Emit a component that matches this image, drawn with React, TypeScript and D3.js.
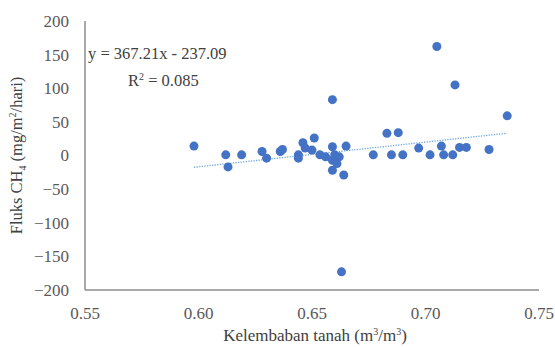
import React, { useEffect, useRef } from 'react';
import * as d3 from 'd3';

const moisture = [
  0.598, 0.612, 0.613, 0.619, 0.628, 0.630, 0.636, 0.637, 0.644, 0.644,
  0.646, 0.647, 0.651, 0.650, 0.6535, 0.656, 0.659, 0.659, 0.659, 0.660,
  0.661, 0.659, 0.662, 0.664, 0.665, 0.677, 0.705, 0.713, 0.736, 0.683,
  0.688, 0.685, 0.690, 0.697, 0.702, 0.707, 0.708, 0.712, 0.715, 0.718,
  0.728, 0.663,
];
const fluxCH4 = [
  14, 1, -17, 1, 6, -4, 6, 9, 1, -4,
  19, 11, 26, 8, 1, -2, 13, 83, -7, 1,
  -12, -22, -2, -29, 14, 1, 162, 105, 59, 33,
  34, 1, 1, 11, 1, 14, 1, 1, 12, 12,
  9, -173,
];
const xTicks = [0.55, 0.60, 0.65, 0.70, 0.75];
const yTicks = [200, 150, 100, 50, 0, -50, -100, -150, -200];
const slope = 367.21;
const intercept = -237.09;

const W = 555;
const H = 347;
const margin = { top: 21, right: 16, bottom: 57, left: 85 };

const App: React.FC = () => {
  const svgRef = useRef<SVGSVGElement>(null);

  useEffect(() => {
    if (!svgRef.current) return;
    const svg = d3.select(svgRef.current);
    svg.selectAll('*').remove();

    const x = d3.scaleLinear().domain([0.55, 0.75]).range([margin.left, W - margin.right]);
    const y = d3.scaleLinear().domain([-200, 200]).range([H - margin.bottom, margin.top]);
    const font = '"Liberation Serif", "Times New Roman", serif';

    // axes (Excel style: no tick marks, just lines)
    svg.append('line')
      .attr('x1', x(0.55)).attr('x2', x(0.55))
      .attr('y1', y(200)).attr('y2', y(-200))
      .attr('stroke', '#8c8c8c').attr('stroke-width', 1.5);
    svg.append('line')
      .attr('x1', x(0.55)).attr('x2', x(0.75))
      .attr('y1', y(-200)).attr('y2', y(-200))
      .attr('stroke', '#8c8c8c').attr('stroke-width', 1.5);

    svg.append('g')
      .selectAll('text')
      .data(yTicks)
      .join('text')
      .attr('x', margin.left - 16)
      .attr('y', d => y(d))
      .attr('dy', '0.35em')
      .attr('text-anchor', 'end')
      .attr('font-family', font)
      .attr('font-size', 17)
      .attr('fill', '#595959')
      .text(d => d3.format('d')(d));

    svg.append('g')
      .selectAll('text')
      .data(xTicks)
      .join('text')
      .attr('x', d => x(d))
      .attr('y', H - margin.bottom + 29)
      .attr('text-anchor', 'middle')
      .attr('font-family', font)
      .attr('font-size', 17)
      .attr('fill', '#595959')
      .text(d => d3.format('.2f')(d));

    // trend line
    const [x0, x1] = d3.extent(moisture) as [number, number];
    svg.append('line')
      .attr('x1', x(x0)).attr('y1', y(slope * x0 + intercept))
      .attr('x2', x(x1)).attr('y2', y(slope * x1 + intercept))
      .attr('stroke', '#6fa8dc')
      .attr('stroke-width', 1.3)
      .attr('stroke-dasharray', '1.3 1.3');

    // points
    svg.append('g')
      .selectAll('circle')
      .data(moisture.map((m, i) => [m, fluxCH4[i]]))
      .join('circle')
      .attr('cx', d => x(d[0]))
      .attr('cy', d => y(d[1]))
      .attr('r', 4.5)
      .attr('fill', '#4472c4');

    // equation
    svg.append('text')
      .attr('x', 88).attr('y', 59)
      .attr('font-family', font).attr('font-size', 16.5).attr('fill', '#404040')
      .text('y = 367.21x - 237.09');
    const r2 = svg.append('text')
      .attr('x', 128).attr('y', 86)
      .attr('font-family', font).attr('font-size', 16.5).attr('fill', '#404040');
    r2.append('tspan').text('R');
    r2.append('tspan').attr('dy', -6).attr('font-size', 10).text('2');
    r2.append('tspan').attr('dy', 6).text(' = 0.085');

    // axis titles
    const xt = svg.append('text')
      .attr('x', (x(0.55) + x(0.75)) / 2 + 3).attr('y', H - 6)
      .attr('text-anchor', 'middle')
      .attr('font-family', font).attr('font-size', 17).attr('fill', '#404040');
    xt.append('tspan').text('Kelembaban tanah (m');
    xt.append('tspan').attr('dy', -6).attr('font-size', 10).text('3');
    xt.append('tspan').attr('dy', 6).text('/m');
    xt.append('tspan').attr('dy', -6).attr('font-size', 10).text('3');
    xt.append('tspan').attr('dy', 6).text(')');

    const yt = svg.append('text')
      .attr('transform', `translate(22,${(y(200) + y(-200)) / 2}) rotate(-90)`)
      .attr('text-anchor', 'middle')
      .attr('font-family', font).attr('font-size', 16.5).attr('fill', '#404040');
    yt.append('tspan').text('Fluks CH');
    yt.append('tspan').attr('dy', 4).attr('font-size', 10).text('4');
    yt.append('tspan').attr('dy', -4).text(' (mg/m');
    yt.append('tspan').attr('dy', -6).attr('font-size', 10).text('2');
    yt.append('tspan').attr('dy', 6).text('/hari)');
  }, []);

  return (
    <svg
      ref={svgRef}
      width={W}
      height={H}
      style={{ position: 'absolute', left: 0, top: 0, background: '#fff' }}
    />
  );
};

export default App;
